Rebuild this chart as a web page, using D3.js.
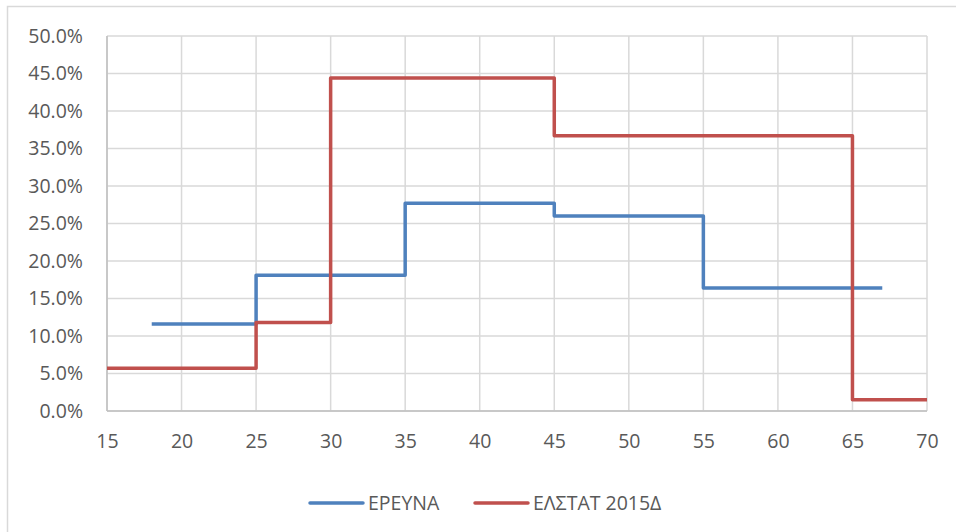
<!DOCTYPE html>
<html>
<head>
<meta charset="utf-8">
<script src="https://cdn.jsdelivr.net/npm/d3@7"></script>
<style>
  body { margin: 0; background: #fff; }
  text { font-family: "Open Sans", sans-serif; fill: #595959; }
</style>
</head>
<body>
<div id="chart"></div>
<script>
// age breakpoints and share (%) per step
let ereunaX = [18, 25, 35, 45, 55, 67],
ereunaY = [11.6, 18.1, 27.7, 26.0, 16.4, 16.4];

let elstatX = [15, 25, 30, 45, 65, 70],
elstatY = [5.7, 11.8, 44.4, 36.7, 1.5, 1.5];

let xTicks = [15, 20, 25, 30, 35, 40, 45, 50, 55, 60, 65, 70];
let yTicks = [0, 5, 10, 15, 20, 25, 30, 35, 40, 45, 50];

let seriesNames = ["ΕΡΕΥΝΑ", "ΕΛΣΤΑΤ 2015Δ"];
let colors = ["#4f81bd", "#c0504d"];

let width = 956, height = 532;
let margin = {top: 36, right: 29, bottom: 121, left: 107};
let fontSize = "19.5px";

let svg = d3.select("#chart")
.append("svg")
.attr("width", width)
.attr("height", height);

// chart frame, runs past the right and bottom edges
svg.append("rect")
.attr("x", 7.5).attr("y", 6.5)
.attr("width", 960).attr("height", 540)
.attr("fill", "#fff")
.attr("stroke", "#d9d9d9")
.attr("stroke-width", 1.5);

let x = d3.scaleLinear().domain([15, 70]).range([margin.left, width - margin.right]);
let y = d3.scaleLinear().domain([0, 50]).range([height - margin.bottom, margin.top]);

let grid = svg.append("g");

grid.selectAll(".hg")
.data(yTicks)
.enter().append("line")
.attr("x1", x(15)).attr("x2", x(70))
.attr("y1", d => y(d)).attr("y2", d => y(d))
.attr("stroke", "#d9d9d9")
.attr("stroke-width", 1.5);

grid.selectAll(".vg")
.data(xTicks)
.enter().append("line")
.attr("x1", d => x(d)).attr("x2", d => x(d))
.attr("y1", y(0)).attr("y2", y(50))
.attr("stroke", "#d9d9d9")
.attr("stroke-width", 1.5);

// axis lines
svg.append("line")
.attr("x1", x(15)).attr("x2", x(70))
.attr("y1", y(0)).attr("y2", y(0))
.attr("stroke", "#bfbfbf").attr("stroke-width", 1.5);
svg.append("line")
.attr("x1", x(15)).attr("x2", x(15))
.attr("y1", y(0)).attr("y2", y(50))
.attr("stroke", "#bfbfbf").attr("stroke-width", 1.5);

let yAxis = d3.axisLeft(y).tickValues(yTicks).tickSize(0).tickPadding(24)
.tickFormat(d => d.toFixed(1) + "%");
svg.append("g")
.attr("transform", "translate(" + x(15) + ",0)")
.call(yAxis)
.call(g => g.select(".domain").remove())
.selectAll("text")
.style("font-size", fontSize)
.style("font-family", "'Open Sans', sans-serif")
.attr("fill", "#595959");

let xAxis = d3.axisBottom(x).tickValues(xTicks).tickSize(0).tickPadding(23);
svg.append("g")
.attr("transform", "translate(0," + y(0) + ")")
.call(xAxis)
.call(g => g.select(".domain").remove())
.selectAll("text")
.style("font-size", fontSize)
.style("font-family", "'Open Sans', sans-serif")
.attr("fill", "#595959");

let line = d3.line()
.x(d => x(d[0]))
.y(d => y(d[1]))
.curve(d3.curveStepAfter);

let series = [d3.zip(ereunaX, ereunaY), d3.zip(elstatX, elstatY)];

svg.selectAll(".series")
.data(series)
.enter().append("path")
.attr("d", line)
.attr("fill", "none")
.attr("stroke", (d, i) => colors[i])
.attr("stroke-width", 3.5)
.attr("stroke-linejoin", "round");

// legend
let legendX = [310, 475];
let legend = svg.selectAll(".legend")
.data(seriesNames)
.enter().append("g")
.attr("transform", (d, i) => "translate(" + legendX[i] + ",503)");

legend.append("line")
.attr("x1", 0).attr("x2", 53)
.attr("stroke", (d, i) => colors[i])
.attr("stroke-width", 3.5)
.attr("stroke-linecap", "round");

legend.append("text")
.attr("x", 58)
.attr("dy", "0.35em")
.style("font-size", fontSize)
.text(d => d);
</script>
</body>
</html>
